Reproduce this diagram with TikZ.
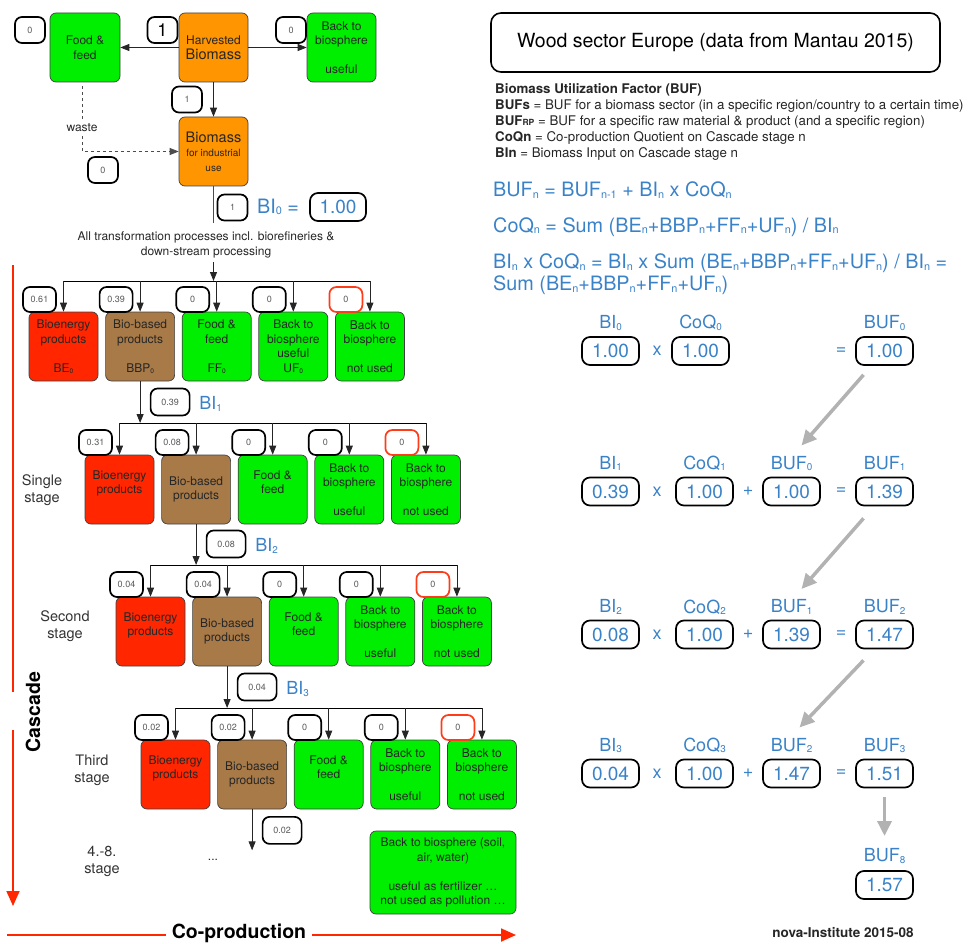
\documentclass[tikz,border=0pt]{standalone}
\usepackage{fontspec}
\setmainfont{TeX Gyre Heros}
\usepackage{graphicx}
\usetikzlibrary{arrows.meta,calc}
\definecolor{cred}{RGB}{255,38,0}
\definecolor{cbrown}{RGB}{168,122,72}
\definecolor{cgreen}{RGB}{0,238,0}
\definecolor{corange}{RGB}{255,149,0}
\definecolor{cblue}{RGB}{58,130,200}
\newcommand{\fs}[2]{\fontsize{#1}{#2}\selectfont}
\newcommand{\subx}[1]{\raisebox{-0.15ex}{\scalebox{0.55}{#1}}}
\tikzset{
 box/.style={draw=black!75, line width=0.7pt, rounded corners=6pt, minimum width=69pt, minimum height=69pt, inner sep=0pt, align=center, font=\fs{12}{14.5}, text=black!85},
 rbox/.style={box, fill=cred},
 bbox/.style={box, fill=cbrown},
 gbox/.style={box, fill=cgreen},
 obox/.style={box, fill=corange},
 badge/.style={draw=black, line width=1.7pt, rounded corners=7pt, minimum width=33pt, minimum height=25pt, inner sep=0pt, font=\fs{9}{10}, text=black!65},
 rbadge/.style={badge, draw=cred!90},
 ibadge/.style={badge, minimum width=39pt, minimum height=27pt},
 val/.style={draw=black, line width=1.7pt, rounded corners=8pt, minimum width=57pt, minimum height=28pt, inner sep=0pt, font=\fs{19}{21}, text=cblue},
 lab/.style={font=\fs{18}{20}, text=cblue, inner sep=0pt},
 op/.style={font=\fs{18}{20}, text=cblue, inner sep=0pt},
 arr/.style={line width=0.8pt, draw=black!85, -{Triangle[length=9pt,width=7pt]}},
 garr/.style={line width=3.5pt, draw=black!30, -{Triangle[length=15pt,width=14pt]}},
 rline/.style={line width=1.8pt, draw=cred},
 rarr/.style={rline, -{Triangle[length=15pt,width=13pt]}},
 stg/.style={font=\fs{14.5}{17}, align=center, text=black!80},
 txt/.style={font=\fs{12}{15}, align=center, text=black!85},
 form/.style={font=\fs{19.8}{22}, text=cblue, inner sep=0pt},
}
\begin{document}
\begin{tikzpicture}[x=1pt,y=-1pt]
\useasboundingbox (0,0) rectangle (974,944);

% ---------- top part ----------
\node[gbox, minimum width=70pt] (ff) at (85,47.5) {Food \&\\feed};
\node[obox] (hb) at (213.5,47.5) {Harvested\\{\fs{14.5}{16}Biomass}};
\node[gbox] (bt) at (341.5,47.5) {Back to\\biosphere\\~\\useful};
\node[obox] (bi) at (213.5,151.5) {{\fs{14.5}{16}Biomass}\\{\fs{10}{12}for industrial}\\{\fs{10}{12}use}};

\node[badge, minimum width=30pt, minimum height=26pt] (b0a) at (30,30) {0};
\node[badge, minimum width=30pt, minimum height=26pt, font=\fs{18}{20}, text=black] (b1a) at (162.5,30) {1};
\node[badge, minimum width=30pt, minimum height=26pt] (b0b) at (291,30) {0};
\node[badge, minimum width=30pt, minimum height=26pt] (b1b) at (187,99.5) {1};
\node[badge, minimum width=30pt, minimum height=26pt] (b0c) at (103,170) {0};
\node[badge, minimum width=30pt, minimum height=26pt] (b1c) at (232.5,207.5) {1};

\draw[arr] (hb.west) -- (ff.east);
\draw[arr] (hb.east) -- (bt.west);
\draw[arr] (hb.south) -- (bi.north);

\node[txt, inner sep=4pt] (waste) at (82,128) {waste};
\draw[dashed, line width=0.8pt, draw=black!70] ([xshift=-3pt,yshift=-4pt]ff.south) -- (waste.north);
\draw[arr, dashed, draw=black!70] (waste.south) |- (bi.west);

\coordinate (bend) at (213.5,223);
\draw[line width=0.8pt, draw=black!70] (bi.south) -- (bend);

\node[form, anchor=west] (bi0t) at (257,207) {BI\subx{0} =};
\node[val, minimum width=56pt] (bi0v) at (338,207) {1.00};

\node[txt] (allt) at (206,245) {All transformation processes incl. biorefineries \&\\down-stream processing};

% ---------- stage 0 ----------
\coordinate (in0) at (213.5,262);
\coordinate (j0) at (63.5,281);
\node[rbox] (s0-a) at (63.5,346.5) {Bioenergy\\products\\~\\BE\subx{0}};
\node[bbox] (s0-b) at (140.1,346.5) {Bio-based\\products\\~\\BBP\subx{0}};
\node[gbox] (s0-c) at (216.7,346.5) {Food \&\\feed\\~\\FF\subx{0}};
\node[gbox] (s0-d) at (293.3,346.5) {Back to\\biosphere\\useful\\UF\subx{0}};
\node[gbox] (s0-e) at (369.9,346.5) {Back to\\biosphere\\~\\not used};
\draw[line width=0.8pt] (s0-a.north |- j0) -- (s0-e.north |- j0);
\foreach \k in {a,b,c,d,e} \draw[arr] (s0-\k.north |- j0) -- (s0-\k.north);
\draw[arr] (in0) -- (in0 |- j0);
\node[badge] (s0-qa) at (39.5,299.5) {0.61};
\node[badge] (s0-qb) at (116.1,299.5) {0.39};
\node[badge] (s0-qc) at (192.7,299.5) {0};
\node[badge] (s0-qd) at (269.3,299.5) {0};
\node[rbadge] (s0-qe) at (345.9,299.5) {0};

% ---------- stages 1-3 ----------
\foreach \s/\L/\T/\pv/\va/\vb/\vin in {1/85/455/0/0.31/0.08/0.39, 2/116/597/1/0.04/0.04/0.08, 3/141/740/2/0.02/0.02/0.04}{
  \node[rbox] (s\s-a) at (\L+34.5,\T+34.5) {Bioenergy\\products\\~};
  \node[bbox] (s\s-b) at (\L+111.1,\T+34.5) {Bio-based\\products};
  \node[gbox] (s\s-c) at (\L+187.7,\T+34.5) {Food \&\\feed\\~};
  \node[gbox] (s\s-d) at (\L+264.3,\T+34.5) {Back to\\biosphere\\~\\useful};
  \node[gbox] (s\s-e) at (\L+340.9,\T+34.5) {Back to\\biosphere\\~\\not used};
  \coordinate (j\s) at (\L+34.5,\T-32);
  \draw[line width=0.8pt] (s\s-a.north |- j\s) -- (s\s-e.north |- j\s);
  \foreach \k in {a,b,c,d,e} \draw[arr] (s\s-\k.north |- j\s) -- (s\s-\k.north);
  \node[badge] (s\s-qa) at (\L+10.5,\T-12.5) {\va};
  \node[badge] (s\s-qb) at (\L+87.1,\T-12.5) {\vb};
  \node[badge] (s\s-qc) at (\L+163.7,\T-12.5) {0};
  \node[badge] (s\s-qd) at (\L+240.3,\T-12.5) {0};
  \node[rbadge] (s\s-qe) at (\L+316.9,\T-12.5) {0};
  \draw[arr] (s\pv-b.south) -- (s\pv-b.south |- j\s);
  \node[ibadge] (s\s-in) at ($(s\pv-b.south |- j\s)+(30,-21)$) {\vin};
  \node[lab, anchor=west] (s\s-bi) at ($(s\pv-b.south |- j\s)+(59,-19)$) {BI\subx{\s}};
}
\coordinate (fin) at ($(s3-b.south)+(0,41)$);
\draw[arr] (s3-b.south) -- (fin);
\node[ibadge] (s4-in) at ($(s3-b.south)+(30,21)$) {0.02};

% stage labels
\node[stg] (l1) at (42,490) {Single\\stage};
\node[stg] (l2) at (65,626) {Second\\stage};
\node[stg] (l3) at (92,770) {Third\\stage};
\node[stg] (l4) at (102,861) {4.-8.\\stage};
\node[txt] (dots) at (213,860) {...};
\node[gbox, minimum width=146pt, minimum height=83pt] (bbig) at (443,872.5) {Back to biosphere (soil,\\air, water)\\~\\useful as fertilizer \dots\\not used as pollution \dots};

% red axes
\coordinate (ca1) at (13,265);
\coordinate (ca2) at (13,692);
\coordinate (ca3) at (13,730);
\coordinate (ca4) at (13,906);
\draw[rline] (ca1) -- (ca2);
\draw[rarr] (ca3) -- (ca4);
\node[rotate=90, font=\bfseries\fs{19.5}{22}] (casc) at (33,712) {Cascade};
\node[font=\bfseries\fs{19.5}{22}, inner sep=6pt] (cop) at (239,933) {Co-production};
\coordinate (cpa) at (7,935);
\coordinate (cpb) at (516,935);
\draw[rline] (cpa) -- (cop.west |- cpa);
\draw[rarr] (cop.east |- cpb) -- (cpb);

% ---------- right part ----------
\node[draw, rounded corners=10pt, line width=1.6pt, minimum width=449pt, minimum height=59pt, font=\fs{19.5}{22}] (title) at (715.5,42.5) {Wood sector Europe (data from Mantau 2015)};

\node[anchor=north west, align=left, inner sep=0pt, font=\fs{13.3}{16}, text=black!85] (defs) at (495,83) {\textbf{Biomass Utilization Factor (BUF)}\\
\textbf{BUFs} = BUF for a biomass sector (in a specific region/country to a certain time)\\
\textbf{BUF{\fs{8.5}{9}RP}} = BUF for a specific raw material \& product (and a specific region)\\
\textbf{CoQn} = Co-production Quotient on Cascade stage n\\
\textbf{BIn} = Biomass Input on Cascade stage n};

\node[form, anchor=west] (f1) at (493,190) {BUF\subx{n} = BUF\subx{n-1} + BI\subx{n} x CoQ\subx{n}};
\node[form, anchor=west] (f2) at (493,227) {CoQ\subx{n} = Sum (BE\subx{n}+BBP\subx{n}+FF\subx{n}+UF\subx{n}) / BI\subx{n}};
\node[form, anchor=north west, align=left] (f3) at (493,254) {BI\subx{n} x CoQ\subx{n} = BI\subx{n} x Sum (BE\subx{n}+BBP\subx{n}+FF\subx{n}+UF\subx{n}) / BI\subx{n} =\\Sum (BE\subx{n}+BBP\subx{n}+FF\subx{n}+UF\subx{n})};

% row 0
\node[lab] (r0al) at (610.5,323) {BI\subx{0}};
\node[val] (r0a) at (610.5,351) {1.00};
\node[op] (r0x) at (657,351) {x};
\node[lab] (r0bl) at (700.5,323) {CoQ\subx{0}};
\node[val] (r0b) at (700.5,351) {1.00};
\node[op] (r0eq) at (841,351) {=};
\node[lab] (r0dl) at (884.5,323) {BUF\subx{0}};
\node[val] (r0d) at (884.5,351) {1.00};
% row 1
\node[lab] (r1al) at (610.5,463.5) {BI\subx{1}};
\node[val] (r1a) at (610.5,491.5) {0.39};
\node[op] (r1x) at (657,491.5) {x};
\node[lab] (r1bl) at (704.5,463.5) {CoQ\subx{1}};
\node[val] (r1b) at (704.5,491.5) {1.00};
\node[op] (r1p) at (748,491.5) {+};
\node[lab] (r1cl) at (791.5,463.5) {BUF\subx{0}};
\node[val] (r1c) at (791.5,491.5) {1.00};
\node[op] (r1eq) at (841,491.5) {=};
\node[lab] (r1dl) at (884.5,463.5) {BUF\subx{1}};
\node[val] (r1d) at (884.5,491.5) {1.39};
% row 2
\node[lab] (r2al) at (610.5,607) {BI\subx{2}};
\node[val] (r2a) at (610.5,634.5) {0.08};
\node[op] (r2x) at (657,634.5) {x};
\node[lab] (r2bl) at (704.5,607) {CoQ\subx{2}};
\node[val] (r2b) at (704.5,634.5) {1.00};
\node[op] (r2p) at (748,634.5) {+};
\node[lab] (r2cl) at (791.5,607) {BUF\subx{1}};
\node[val] (r2c) at (791.5,634.5) {1.39};
\node[op] (r2eq) at (841,634.5) {=};
\node[lab] (r2dl) at (884.5,607) {BUF\subx{2}};
\node[val] (r2d) at (884.5,634.5) {1.47};
% row 3
\node[lab] (r3al) at (610.5,745.5) {BI\subx{3}};
\node[val] (r3a) at (610.5,773.5) {0.04};
\node[op] (r3x) at (657,773.5) {x};
\node[lab] (r3bl) at (704.5,745.5) {CoQ\subx{3}};
\node[val] (r3b) at (704.5,773.5) {1.00};
\node[op] (r3p) at (748,773.5) {+};
\node[lab] (r3cl) at (791.5,745.5) {BUF\subx{2}};
\node[val] (r3c) at (791.5,773.5) {1.47};
\node[op] (r3eq) at (841,773.5) {=};
\node[lab] (r3dl) at (884.5,745.5) {BUF\subx{3}};
\node[val] (r3d) at (884.5,773.5) {1.51};
% BUF8
\node[lab] (r8l) at (884.5,856) {BUF\subx{8}};
\node[val] (r8) at (884.5,885) {1.57};

\draw[garr] ([shift={(-21,9)}]r0d.south) -- ([shift={(10,-18)}]r1cl.center);
\draw[garr] ([shift={(-21,12)}]r1d.south) -- ([shift={(10,-18)}]r2cl.center);
\draw[garr] ([shift={(-21,11)}]r2d.south) -- ([shift={(8,-18)}]r3cl.center);
\draw[garr] ([shift={(0,8.5)}]r3d.south) -- ([shift={(0,-20)}]r8l.center);

\node[font=\bfseries\fs{13.5}{15}, text=black!85] (nova) at (843,933) {nova-Institute 2015-08};
\end{tikzpicture}
\end{document}
